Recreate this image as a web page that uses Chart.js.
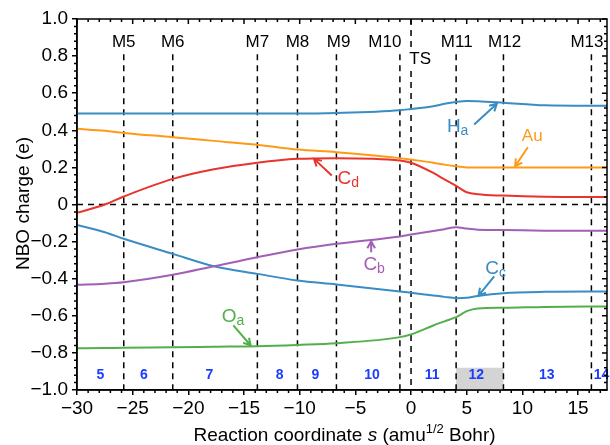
<!DOCTYPE html>
<html>
<head>
<meta charset="utf-8">
<script src="https://cdn.jsdelivr.net/npm/chart.js@4/dist/chart.umd.min.js"></script>
<style>
  html, body { margin: 0; padding: 0; background: #fff; }
  #wrap { width: 610px; height: 445px; }
</style>
</head>
<body>
<div id="wrap"><canvas id="nboChart" width="610" height="445"></canvas></div>
<script>
// reaction coordinate samples (amu^1/2 Bohr)
const sPts = [-30, -27.5, -25.8, -21.4, -17.7, -13.8, -10.2, -6.7, -1, 0, 2, 3, 4.05, 5, 6, 8.3, 12, 17.6];

// NBO charges
const Ha = [0.49, 0.49, 0.49, 0.49, 0.49, 0.49, 0.49, 0.493, 0.508, 0.515, 0.53, 0.543, 0.553, 0.558, 0.557, 0.549, 0.535, 0.532];
const Au = [0.408, 0.397, 0.386, 0.363, 0.343, 0.322, 0.296, 0.282, 0.25, 0.242, 0.225, 0.215, 0.206, 0.2, 0.199, 0.199, 0.2, 0.2];
const Cd = [-0.045, 0, 0.043, 0.138, 0.19, 0.225, 0.246, 0.25, 0.237, 0.225, 0.17, 0.135, 0.1, 0.066, 0.055, 0.048, 0.042, 0.04];
const Cb = [-0.433, -0.427, -0.419, -0.379, -0.333, -0.284, -0.243, -0.212, -0.172, -0.162, -0.143, -0.133, -0.122, -0.13, -0.136, -0.138, -0.141, -0.142];
const Cc = [-0.11, -0.15, -0.185, -0.266, -0.333, -0.374, -0.41, -0.431, -0.469, -0.476, -0.49, -0.498, -0.505, -0.503, -0.493, -0.478, -0.471, -0.469];
const Oa = [-0.775, -0.774, -0.772, -0.77, -0.767, -0.764, -0.757, -0.748, -0.715, -0.7, -0.652, -0.63, -0.607, -0.575, -0.56, -0.557, -0.552, -0.55];

// stationary points marked by dashed lines
const markNames = ['M5', 'M6', 'M7', 'M8', 'M9', 'M10', 'TS', 'M11', 'M12', 'M13'];
const markPos = [-25.8, -21.4, -13.8, -10.2, -6.7, -1.0, 0, 4.05, 8.3, 16.2];
const markLabelPos = [-25.8, -21.4, -13.8, -10.2, -6.5, -2.35, -0.15, 4.1, 8.4, 15.8];

// region numbers along the bottom
const regionNames = ['5', '6', '7', '8', '9', '10', '11', '12', '13', '14'];
const regionPos = [-27.9, -24, -18.1, -11.8, -8.6, -3.5, 1.9, 5.85, 12.2, 17.1];

// curve labels (letter + subscript) and their arrows [s, q]
const lblMain = ['H', 'Au', 'C', 'C', 'C', 'O'];
const lblSub = ['a', '', 'd', 'b', 'c', 'a'];
const lblAt = [[3.22, 0.39], [9.95, 0.345], [-6.61, 0.112], [-4.28, -0.352], [6.66, -0.374], [-17.0, -0.634]];
const arrowFrom = [[5.67, 0.431], [10.49, 0.309], [-7.12, 0.156], [-3.58, -0.257], [7.47, -0.388], [-15.96, -0.652]];
const arrowTo = [[7.71, 0.543], [9.35, 0.206], [-8.71, 0.246], [-3.58, -0.198], [6.06, -0.491], [-14.4, -0.76]];

const xTickVals = [-30, -25, -20, -15, -10, -5, 0, 5, 10, 15];
const yTickVals = [-1, -0.8, -0.6, -0.4, -0.2, 0, 0.2, 0.4, 0.6, 0.8, 1];
const yTickLabels = ['\u22121.0', '\u22120.8', '\u22120.6', '\u22120.4', '\u22120.2', '0', '0.2', '0.4', '0.6', '0.8', '1.0'];

const sMin = -30, sMax = 17.6;
const bandFrom = 4.05, bandTo = 8.3, bandTop = -0.88;

const BLUE = '#3a8cc4', ORANGE = '#ff9a17', RED = '#e8342c', PURPLE = '#a35fb5', GREEN = '#52b04a';
const lblColors = [BLUE, ORANGE, RED, PURPLE, BLUE, GREEN];
const FONT = "'Liberation Sans', Arial, sans-serif";

Chart.defaults.font.family = FONT;
Chart.defaults.color = '#000';

function curve(vals, color) {
    return {
        data: sPts.map((s, i) => ({ x: s, y: vals[i] })),
        borderColor: color,
        borderWidth: 2,
        pointRadius: 0,
        showLine: true,
        cubicInterpolationMode: 'monotone',
        order: 0
    };
}

function dashed(points) {
    return {
        data: points,
        borderColor: '#000',
        borderWidth: 1.5,
        borderDash: [6, 5],
        pointRadius: 0,
        showLine: true,
        order: 5
    };
}

const datasets = [
    curve(Ha, BLUE), curve(Au, ORANGE), curve(Cd, RED),
    curve(Cb, PURPLE), curve(Cc, BLUE), curve(Oa, GREEN),
    dashed([{ x: sMin, y: 0 }, { x: sMax, y: 0 }])
];
markPos.forEach((p, i) => {
    if (markNames[i] === 'TS') {
        // TS line runs from the top, broken where its label sits
        datasets.push(dashed([{ x: p, y: 1.0 }, { x: p, y: 0.845 }]));
        datasets.push(dashed([{ x: p, y: 0.72 }, { x: p, y: -1 }]));
    } else {
        datasets.push(dashed([{ x: p, y: 0.81 }, { x: p, y: -1 }]));
    }
});

function arrow(ctx, x1, y1, x2, y2) {
    let a = Math.atan2(y2 - y1, x2 - x1);
    let h = 8;
    ctx.beginPath();
    ctx.moveTo(x1, y1);
    ctx.lineTo(x2, y2);
    ctx.moveTo(x2 - h * Math.cos(a - 0.5), y2 - h * Math.sin(a - 0.5));
    ctx.lineTo(x2, y2);
    ctx.lineTo(x2 - h * Math.cos(a + 0.5), y2 - h * Math.sin(a + 0.5));
    ctx.stroke();
}

const decor = {
    id: 'decor',
    beforeDatasetsDraw(chart) {
        const { ctx, scales: { x, y } } = chart;
        ctx.save();
        ctx.fillStyle = '#d4d4d4';
        let x0 = x.getPixelForValue(bandFrom), x1 = x.getPixelForValue(bandTo);
        let y0 = y.getPixelForValue(bandTop), y1 = y.getPixelForValue(-1);
        ctx.fillRect(x0, y0, x1 - x0, y1 - y0);
        ctx.restore();
    },
    afterDatasetsDraw(chart) {
        const { ctx, scales: { x, y } } = chart;
        ctx.save();
        // marker names
        ctx.fillStyle = '#000';
        ctx.font = '17px ' + FONT;
        ctx.textBaseline = 'middle';
        markPos.forEach((p, i) => {
            if (markNames[i] === 'TS') {
                ctx.textAlign = 'left';
                ctx.fillText('TS', x.getPixelForValue(markLabelPos[i]), y.getPixelForValue(0.78));
            } else {
                ctx.textAlign = 'center';
                ctx.fillText(markNames[i], x.getPixelForValue(markLabelPos[i]), y.getPixelForValue(0.873));
            }
        });
        // region numbers
        ctx.fillStyle = '#1a3cff';
        ctx.font = 'bold 14px ' + FONT;
        ctx.textAlign = 'center';
        regionPos.forEach((p, i) => {
            ctx.fillText(regionNames[i], x.getPixelForValue(p), y.getPixelForValue(-0.92));
        });
        // curve labels + arrows
        ctx.textAlign = 'left';
        ctx.textBaseline = 'alphabetic';
        ctx.lineWidth = 2;
        lblMain.forEach((t, i) => {
            ctx.fillStyle = lblColors[i];
            ctx.strokeStyle = lblColors[i];
            let px = x.getPixelForValue(lblAt[i][0]);
            let py = y.getPixelForValue(lblAt[i][1]);
            ctx.font = (t === 'Au' ? '17px ' : '19px ') + FONT;
            ctx.fillText(t, px, py);
            let w = ctx.measureText(t).width;
            if (lblSub[i]) {
                ctx.font = '14px ' + FONT;
                ctx.fillText(lblSub[i], px + w, py + 3);
            }
            arrow(ctx, x.getPixelForValue(arrowFrom[i][0]), y.getPixelForValue(arrowFrom[i][1]),
                x.getPixelForValue(arrowTo[i][0]), y.getPixelForValue(arrowTo[i][1]));
        });
        ctx.restore();
    },
    afterDraw(chart) {
        const { ctx, chartArea: a, scales: { x, y } } = chart;
        ctx.save();
        ctx.strokeStyle = '#000';
        ctx.lineWidth = 1.5;
        ctx.strokeRect(a.left, a.top, a.right - a.left, a.bottom - a.top);
        ctx.beginPath();
        // x minor ticks every 1, top ticks inward
        for (let s = -30; s <= sMax; s++) {
            let px = x.getPixelForValue(s);
            let major = s % 5 === 0;
            if (!major) {
                ctx.moveTo(px, a.bottom); ctx.lineTo(px, a.bottom + 3);
            }
            ctx.moveTo(px, a.top); ctx.lineTo(px, a.top + (major ? 5 : 3));
        }
        // y minor ticks every 0.04, right ticks inward
        for (let k = -25; k <= 25; k++) {
            let py = y.getPixelForValue(k * 0.04);
            let major = k % 5 === 0;
            if (!major) {
                ctx.moveTo(a.left, py); ctx.lineTo(a.left - 3, py);
            }
            ctx.moveTo(a.right, py); ctx.lineTo(a.right - (major ? 5 : 3), py);
        }
        ctx.stroke();

        // axis titles
        ctx.fillStyle = '#000';
        ctx.textBaseline = 'alphabetic';
        ctx.textAlign = 'left';
        const parts = [
            ['Reaction coordinate ', '19px ', 0],
            ['s', 'italic 19px ', 0],
            [' (amu', '19px ', 0],
            ['1/2', '13px ', -8],
            [' Bohr)', '19px ', 0]
        ];
        let total = 0;
        parts.forEach(p => { ctx.font = p[1] + FONT; total += ctx.measureText(p[0]).width; });
        let cx = 344.5 - total / 2;
        parts.forEach(p => {
            ctx.font = p[1] + FONT;
            ctx.fillText(p[0], cx, 441 + p[2]);
            cx += ctx.measureText(p[0]).width;
        });
        ctx.translate(23.5, 203.5);
        ctx.rotate(-Math.PI / 2);
        ctx.textAlign = 'center';
        ctx.textBaseline = 'middle';
        ctx.font = '19px ' + FONT;
        ctx.fillText('NBO charge (e)', 0, 0);
        ctx.restore();
    }
};

new Chart(document.getElementById('nboChart'), {
    type: 'scatter',
    data: { datasets: datasets },
    options: {
        responsive: false,
        animation: false,
        layout: { padding: { top: 19, right: 3, left: 0, bottom: 0 } },
        plugins: { legend: { display: false }, tooltip: { enabled: false } },
        scales: {
            x: {
                type: 'linear',
                min: sMin,
                max: sMax,
                afterBuildTicks: (s) => { s.ticks = xTickVals.map(v => ({ value: v })); },
                afterFit: (s) => { s.height = 55; },
                ticks: {
                    font: { size: 19 },
                    padding: 2,
                    maxRotation: 0,
                    callback: (v) => (v < 0 ? '\u2212' + Math.abs(v) : String(v))
                },
                grid: { drawOnChartArea: false, tickLength: 5, color: '#000', lineWidth: 1.5 },
                border: { color: '#000', width: 1.5 }
            },
            y: {
                type: 'linear',
                min: -1,
                max: 1,
                afterBuildTicks: (s) => { s.ticks = yTickVals.map(v => ({ value: v })); },
                afterFit: (s) => { s.width = 77; },
                ticks: {
                    font: { size: 19 },
                    padding: 4,
                    callback: (v) => yTickLabels[yTickVals.findIndex(t => Math.abs(t - v) < 1e-6)]
                },
                grid: { drawOnChartArea: false, tickLength: 5, color: '#000', lineWidth: 1.5 },
                border: { color: '#000', width: 1.5 }
            }
        }
    },
    plugins: [decor]
});
</script>
</body>
</html>
